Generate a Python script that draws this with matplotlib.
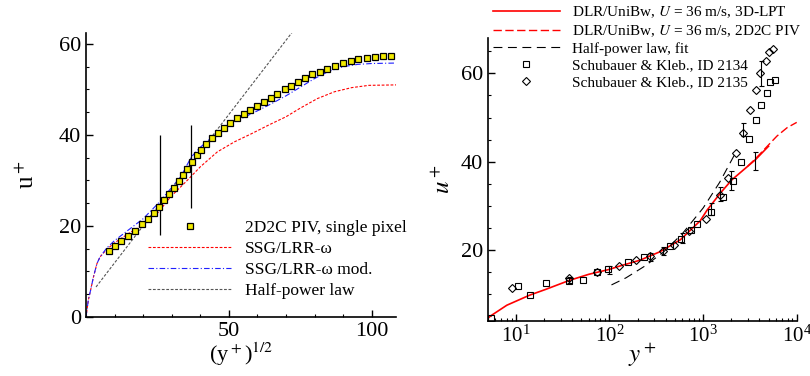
import matplotlib
matplotlib.use("Agg")
import matplotlib.pyplot as plt
from matplotlib.ticker import MultipleLocator, LogLocator, NullFormatter

plt.rcParams["font.family"] = ["Liberation Serif", "DejaVu Serif"]
plt.rcParams["mathtext.fontset"] = "stix"

# ---- left panel: u+ vs (y+)^1/2 ----
piv_x = [7.9, 10.2, 12.4, 14.8, 17.1, 19.5, 21.7, 23.7, 25.5, 27.2, 29.1, 30.8, 32.5,
         33.9, 35.4, 37.2, 38.7, 40.4, 42.1, 44.0, 46.2, 48.4, 50.4, 52.8, 55.2, 57.5,
         59.9, 62.2, 64.6, 66.9, 69.5, 71.8, 74.2, 76.8, 79.2, 81.8, 84.5, 87.1, 89.8,
         92.6, 95.3, 98.2, 101.2, 104.1, 106.8]
piv_u = [14.5, 15.7, 16.8, 17.9, 19.0, 20.4, 21.6, 22.9, 24.2, 25.6, 27.0, 28.4, 29.8,
         31.3, 32.6, 34.1, 35.5, 36.8, 38.1, 39.3, 40.5, 41.6, 42.7, 43.7, 44.6, 45.5,
         46.4, 47.3, 48.2, 49.1, 50.0, 50.8, 51.7, 52.5, 53.3, 53.9, 54.6, 55.2, 55.8,
         56.3, 56.7, 57.0, 57.2, 57.3, 57.4]
err_x = [25.8, 36.9]
err_lo = [18.1, 24.0]
err_hi = [40.0, 42.1]

ssg_x = [0, 0.8, 1.6, 2.6, 3.8, 4.9, 7.3, 10, 15, 20, 25, 29.6, 35.4, 40, 46, 52, 58,
         64, 70, 75, 81, 87, 93, 99, 108.5]
ssg_u = [0, 3.7, 5.9, 8.8, 11.7, 13.2, 14.9, 16.3, 18.4, 20.3, 22.8, 26.4, 30.0, 33.0,
         36.3, 38.5, 40.3, 42.2, 44.0, 45.9, 48.0, 49.5, 50.4, 50.9, 51.0]
mod_x = [0, 0.8, 1.6, 2.6, 3.8, 4.9, 7.3, 10, 15, 20, 25, 27.2, 33.1, 36.9, 40, 45,
         50, 55, 60, 65, 70, 75, 80, 85, 90, 95, 100, 108.5]
mod_u = [0, 3.7, 5.9, 8.8, 11.7, 13.2, 15.2, 16.8, 19.2, 21.6, 24.8, 26.4, 30.8, 35.2,
         37.3, 40.0, 42.2, 43.8, 45.3, 46.9, 48.6, 50.5, 52.4, 54.0, 55.0, 55.5, 55.7, 55.8]
hp_x = [3.5, 72.2]
hp_u = [6.6, 62.6]

# ---- right panel: u+ vs y+ ----
lpt_x = [5, 5.3, 8, 14.1, 20.9, 37, 60, 99, 130, 212, 345, 570, 930, 1100, 1530,
         2030, 3600, 5000]
lpt_u = [4.5, 5.0, 7.5, 9.8, 11.1, 13.1, 14.5, 15.6, 16.4, 17.7, 19.6, 22.3, 26.6,
         29.0, 32.9, 35.9, 40.4, 43.5]
piv2_x = [3000, 3600, 5000, 6150, 7900, 10000]
piv2_u = [39.0, 40.6, 43.8, 45.8, 47.7, 48.9]
fit_x = [105, 150, 240, 375, 600, 1000, 1500, 2300]
fit_u = [12.1, 13.7, 16.4, 19.5, 23.7, 29.5, 35.3, 42.6]
sk34_x = [5.4, 10.6, 14.1, 20.9, 37, 52.6, 73, 96, 159, 231, 445, 582, 738, 860,
          1210, 1630, 2090, 2560, 3120, 3670, 4200, 4770, 5200, 5900]
sk34_u = [4.6, 11.8, 9.8, 12.6, 13.0, 13.3, 15.0, 15.8, 17.3, 18.5, 21.0, 22.6, 24.5,
          25.8, 28.6, 32.0, 35.7, 39.9, 45.2, 49.5, 52.9, 55.6, 58.0, 58.5]
sk35_x = [9.2, 37, 73, 127, 191, 272, 370, 483, 714, 1080, 1500, 1830, 2220, 2650,
          3150, 3670, 4100, 4650, 5100, 5550]
sk35_u = [11.3, 13.6, 15.1, 16.3, 17.7, 18.6, 19.8, 21.1, 24.2, 27.0, 32.5, 36.4,
          42.0, 46.5, 51.6, 56.2, 60.0, 62.8, 64.8, 65.5]
eb_x = [37, 99, 272, 370, 600, 1200, 1530, 2000, 3600, 2660, 4170]
eb_u = [13.2, 15.5, 18.5, 19.8, 22.7, 29.3, 32.6, 35.7, 40.2, 47.3, 59.9]
eb_e = [0.75, 0.85, 0.9, 0.95, 1.05, 1.3, 1.6, 2.1, 2.1, 1.5, 2.8]

fig = plt.figure(figsize=(8.1, 3.76), dpi=100)

# left
ax1 = fig.add_axes([0.1062, 0.1569, 0.3827, 0.7553])
ax1.plot(ssg_x, ssg_u, color="red", lw=0.8, ls=(0, (2.5, 1.5)), label="SSG/LRR-ω")
ax1.plot(mod_x, mod_u, color="#2020ff", lw=0.8, ls=(0, (5, 2, 1, 2)),
         label="SSG/LRR-ω mod.")
ax1.plot(hp_x, hp_u, color="#555555", lw=0.8, ls=(0, (2.5, 1.5)), label="Half-power law")
ax1.vlines(err_x, err_lo, err_hi, color="black", lw=0.9)
ax1.plot(piv_x, piv_u, ls="none", marker="s", ms=3.8, mfc="#f2ea00", mec="black",
         mew=0.9, zorder=5, label="2D2C PIV, single pixel")
ax1.set_xlim(0, 108.5)
ax1.set_ylim(0, 62.4)
ax1.xaxis.set_minor_locator(MultipleLocator(10))
ax1.yaxis.set_major_locator(MultipleLocator(20))
ax1.yaxis.set_minor_locator(MultipleLocator(5))
ax1.set_xticks([50, 100])
ax1.set_xlabel("(y$^+$)$^{1/2}$", fontsize=16, labelpad=0)
ax1.set_ylabel("u$^+$", fontsize=18, labelpad=14)

h, l = ax1.get_legend_handles_labels()
order = [3, 0, 1, 2]
fig.legend([h[i] for i in order], [l[i] for i in order], loc="upper left",
           bbox_to_anchor=(148 / 810, 1 - 220 / 376), frameon=False, fontsize=12.5,
           handlelength=4.8, handletextpad=0.78, labelspacing=0.28, borderpad=0,
           borderaxespad=0)

# right
ax2 = fig.add_axes([0.6021, 0.1471, 0.3815, 0.7518])
ax2.plot(lpt_x, lpt_u, color="red", lw=1.2, label="DLR/UniBw, $U$ = 36 m/s, 3D-LPT")
ax2.plot(piv2_x, piv2_u, color="red", lw=1.0, ls=(0, (6, 2.5)),
         label="DLR/UniBw, $U$ = 36 m/s, 2D2C PIV")
ax2.plot(fit_x, fit_u, color="black", lw=0.8, ls=(0, (8, 5)), label="Half-power law, fit")
ax2.plot(sk34_x, sk34_u, ls="none", marker="s", ms=4.5, mfc="none", mec="black",
         mew=0.8, label="Schubauer & Kleb., ID 2134")
ax2.plot(sk35_x, sk35_u, ls="none", marker="D", ms=4.5, mfc="none", mec="black",
         mew=0.8, label="Schubauer & Kleb., ID 2135")
ax2.errorbar(eb_x, eb_u, yerr=eb_e, ls="none", color="black", elinewidth=0.8,
             capsize=1.8, capthick=0.8)
ax2.set_xscale("log")
ax2.set_xlim(5, 1e4)
ax2.set_ylim(4, 68)
ax2.xaxis.set_major_locator(LogLocator(base=10, numticks=10))
ax2.xaxis.set_minor_locator(LogLocator(base=10, subs=range(2, 10), numticks=10))
ax2.xaxis.set_minor_formatter(NullFormatter())
ax2.yaxis.set_major_locator(MultipleLocator(20))
ax2.yaxis.set_minor_locator(MultipleLocator(5))
ax2.set_xlabel("$y^+$", fontsize=18, labelpad=-4)
ax2.set_ylabel("$u^+$", fontsize=18, labelpad=4)

fig.legend(*ax2.get_legend_handles_labels(), loc="upper left",
           bbox_to_anchor=(492.7 / 810, 1 - 4.5 / 376), frameon=False, fontsize=11,
           handlelength=4.4, handletextpad=0.8, labelspacing=0.2, borderpad=0,
           borderaxespad=0)

for ax in (ax1, ax2):
    ax.spines["top"].set_visible(False)
    ax.spines["right"].set_visible(False)
    ax.spines["left"].set_linewidth(1.2)
    ax.spines["bottom"].set_linewidth(1.2)
    ax.tick_params(which="major", direction="in", length=5, width=1.0, labelsize=16)
    ax.tick_params(which="minor", direction="in", length=2.5, width=0.8)
ax2.tick_params(axis="x", which="major", labelsize=15)

fig.savefig("out.png", dpi=100)
